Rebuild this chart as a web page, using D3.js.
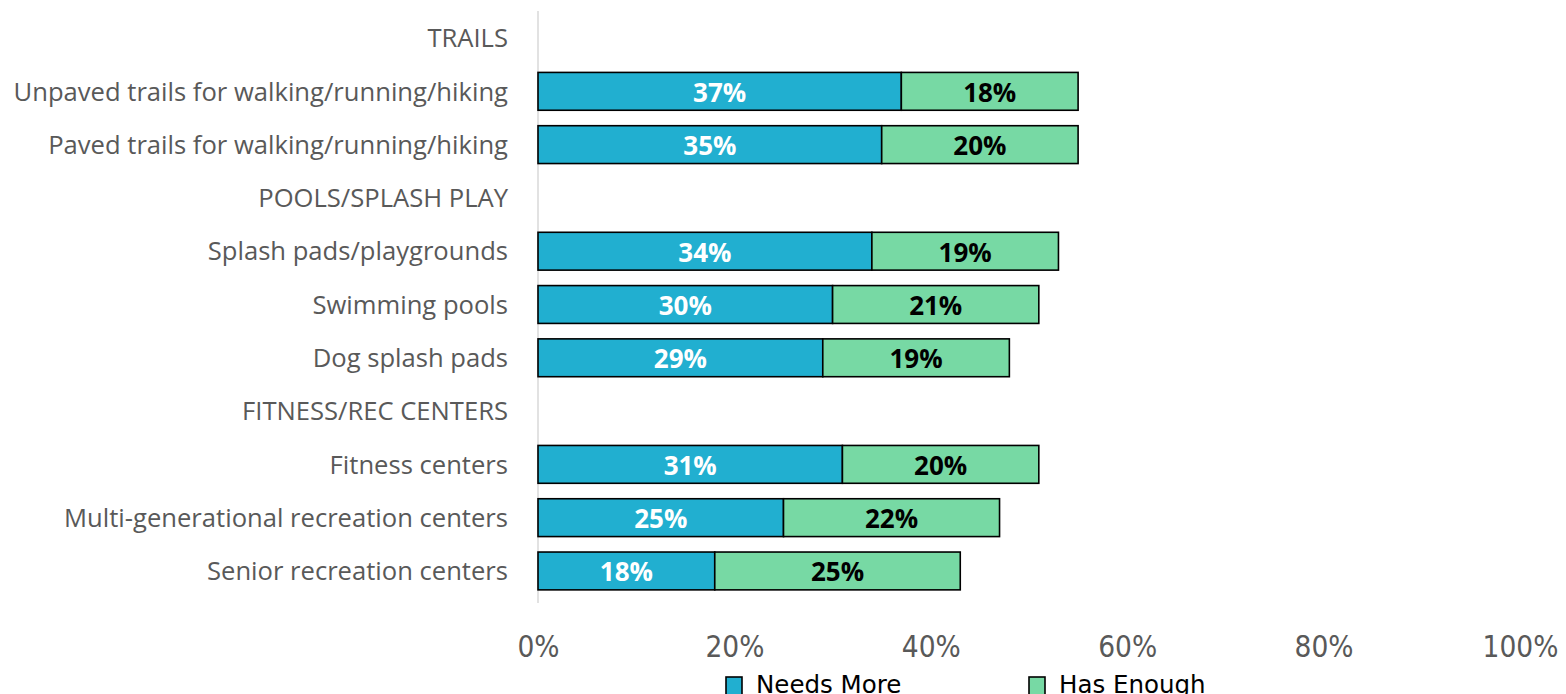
<!DOCTYPE html>
<html><head><meta charset="utf-8">
<script src="https://cdn.jsdelivr.net/npm/d3@7"></script>
<style>body{margin:0;background:#fff;}svg{display:block;}</style>
</head><body>
<svg id="c" width="1566" height="694"></svg>
<script>
const categories = ["TRAILS","Unpaved trails for walking/running/hiking","Paved trails for walking/running/hiking","POOLS/SPLASH PLAY","Splash pads/playgrounds","Swimming pools","Dog splash pads","FITNESS/REC CENTERS","Fitness centers","Multi-generational recreation centers","Senior recreation centers"];
const needsMore = [null,37,35,null,34,30,29,null,31,25,18];
const hasEnough = [null,18,20,null,19,21,19,null,20,22,25];
const xTicks = [0,20,40,60,80,100];
const seriesNames = ["Needs More","Has Enough"];
const colors = ["#21AFD0","#77D9A4"];

const svg = d3.select("#c");
const x = d3.scaleLinear().domain([0,100]).range([538,1520]);
const y = d3.scaleBand().domain(categories).range([11.4,597.6]).paddingInner(0.29).paddingOuter(0.145);

// vertical axis line
svg.append("line").attr("x1",538).attr("x2",538).attr("y1",11).attr("y2",603)
  .attr("stroke","#d9d9d9").attr("stroke-width",1.5);

// category labels
svg.append("g").selectAll("text").data(categories).join("text")
  .attr("x",508).attr("y",d=>y(d)+y.bandwidth()/2).attr("dy","0.36em")
  .attr("text-anchor","end").attr("font-family","Open Sans").attr("font-size",25.6)
  .attr("fill","#595959").text(d=>d);

const rows = categories.map((c,i)=>({c,n:needsMore[i],h:hasEnough[i]})).filter(d=>d.n!==null);
const g = svg.append("g");
g.selectAll("rect.n").data(rows).join("rect").attr("class","n")
  .attr("x",x(0)).attr("y",d=>y(d.c)).attr("width",d=>x(d.n)-x(0)).attr("height",y.bandwidth())
  .attr("fill",colors[0]).attr("stroke","#000").attr("stroke-width",1.6);
g.selectAll("rect.h").data(rows).join("rect").attr("class","h")
  .attr("x",d=>x(d.n)).attr("y",d=>y(d.c)).attr("width",d=>x(d.n+d.h)-x(d.n)).attr("height",y.bandwidth())
  .attr("fill",colors[1]).attr("stroke","#000").attr("stroke-width",1.6);
g.selectAll("text.n").data(rows).join("text").attr("class","n")
  .attr("x",d=>(x(0)+x(d.n))/2).attr("y",d=>y(d.c)+y.bandwidth()/2).attr("dy","0.4em")
  .attr("text-anchor","middle").attr("font-family","Open Sans").attr("font-weight","bold")
  .attr("font-size",26).attr("fill","#fff").text(d=>d.n+"%");
g.selectAll("text.h").data(rows).join("text").attr("class","h")
  .attr("x",d=>(x(d.n)+x(d.n+d.h))/2).attr("y",d=>y(d.c)+y.bandwidth()/2).attr("dy","0.4em")
  .attr("text-anchor","middle").attr("font-family","Open Sans").attr("font-weight","bold")
  .attr("font-size",26).attr("fill","#000").text(d=>d.h+"%");

// x axis labels
const ax = svg.append("g").attr("transform","translate(0,633)")
  .call(d3.axisBottom(x).tickValues(xTicks).tickFormat(d=>d+"%").tickSize(0));
ax.select(".domain").remove();
ax.selectAll("text").attr("font-family","DejaVu Sans Condensed").attr("font-size",29.5).attr("fill","#595959");

// legend
const leg = svg.append("g");
const legX = [726,1029];
seriesNames.forEach((s,i)=>{
  leg.append("rect").attr("x",legX[i]).attr("y",677).attr("width",16).attr("height",20)
    .attr("fill",colors[i]).attr("stroke","#000").attr("stroke-width",1.6);
  leg.append("text").attr("x",legX[i]+30).attr("y",693).attr("font-family","DejaVu Sans")
    .attr("font-size",24.5).attr("fill","#000").text(s);
});
</script>
</body></html>
